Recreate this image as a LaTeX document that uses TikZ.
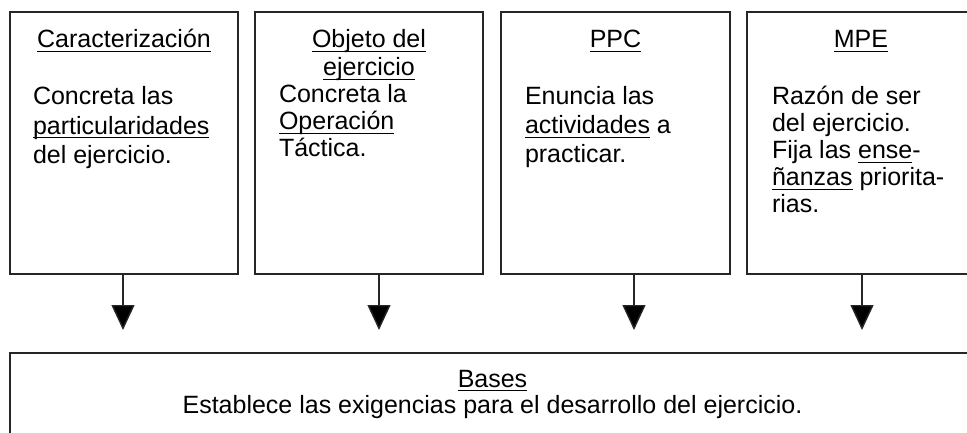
\documentclass[tikz,border=0pt]{standalone}
\usepackage{fontspec}
\setmainfont{Liberation Sans}
\usetikzlibrary{arrows.meta}
\newcommand\ulw[1]{\leavevmode\setbox0\hbox{#1}\rlap{\rule[-4pt]{\wd0}{1.4pt}}\box0\relax}
\begin{document}
\begin{tikzpicture}[x=1pt,y=-1pt,
  font=\fontsize{25}{27}\selectfont,
  box/.style={draw=black!85, line width=1.5pt, inner sep=0pt, outer sep=0pt},
  conn/.style={draw=black!85, line width=1.4pt, -{Triangle[width=23pt,length=25pt,fill=black]}},
  lbl/.style={inner sep=0pt, outer sep=0pt}]
\useasboundingbox (0,0) rectangle (967,433);
% boxes
\node[box, minimum width=228pt, minimum height=262pt] (b1) at (124,143) {};
\node[box, minimum width=228pt, minimum height=262pt] (b2) at (369,143) {};
\node[box, minimum width=229pt, minimum height=262pt] (b3) at (615.5,143) {};
\node[box, minimum width=228pt, minimum height=262pt] (b4) at (861,143) {};
\node[box, minimum width=965pt, minimum height=92pt] (bb) at (492.5,399) {};
% texts box 1
\node[lbl, anchor=base] (h1) at (124,48) {\ulw{Caracterización}};
\node[lbl, anchor=base west] (t1) at (33,105) {\begin{tabular}[t]{@{}l@{}}Concreta las\\[2.5pt] \ulw{particularidades}\\[2.5pt] del ejercicio.\end{tabular}};
% box 2
\node[lbl, anchor=base] (h2) at (369,48) {\begin{tabular}[t]{@{}c@{}}\ulw{Objeto del}\\[1pt] \ulw{ejercicio}\end{tabular}};
\node[lbl, anchor=base west] (t2) at (279,103) {\begin{tabular}[t]{@{}l@{}}Concreta la\\ \ulw{Operación}\\ Táctica.\end{tabular}};
% box 3
\node[lbl, anchor=base] (h3) at (615.5,48) {\ulw{PPC}};
\node[lbl, anchor=base west] (t3) at (525,105) {\begin{tabular}[t]{@{}l@{}}Enuncia las\\[2pt] \ulw{actividades} a\\[2pt] practicar.\end{tabular}};
% box 4
\node[lbl, anchor=base] (h4) at (861,48) {\ulw{MPE}};
\node[lbl, anchor=base west] (t4) at (772,105) {\begin{tabular}[t]{@{}l@{}}Razón de ser\\ del ejercicio.\\ Fija las \ulw{ense}-\\ \ulw{ñanzas} priorita-\\ rias.\end{tabular}};
% bases
\node[lbl, anchor=base] (hb) at (492.5,387) {\ulw{Bases}};
\node[lbl, anchor=base] (tb) at (492.5,413) {Establece las exigencias para el desarrollo del ejercicio.};
% arrows
\coordinate (a1) at (123,330);
\coordinate (a2) at (379,330);
\coordinate (a3) at (634,330);
\coordinate (a4) at (862,330);
\draw[conn] (a1 |- b1.south) -- (a1);
\draw[conn] (a2 |- b2.south) -- (a2);
\draw[conn] (a3 |- b3.south) -- (a3);
\draw[conn] (a4 |- b4.south) -- (a4);
\end{tikzpicture}
\end{document}
